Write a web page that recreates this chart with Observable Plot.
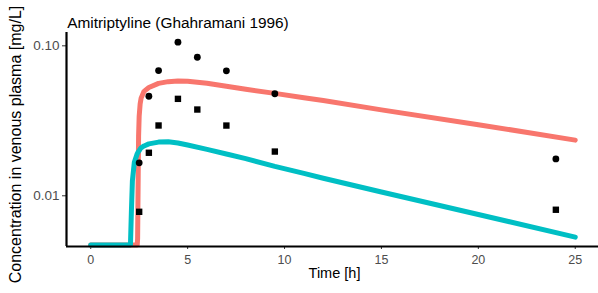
<!DOCTYPE html>
<html>
<head>
<meta charset="utf-8">
<script src="https://cdn.jsdelivr.net/npm/d3@7"></script>
<script src="https://cdn.jsdelivr.net/npm/@observablehq/plot@0.6"></script>
<style>
  html, body { margin: 0; padding: 0; background: #fff; }
  #chart svg { display: block; }
</style>
</head>
<body>
<div id="chart"></div>
<script>
// ---- data ----
const chartTitle = "Amitriptyline (Ghahramani 1996)";
const xTitle = "Time [h]";
const yTitle = "Concentration in venous plasma [mg/L]";

const xTicks = [0, 5, 10, 15, 20, 25];
const yTicks = [0.01, 0.1];
const xDomain = [-1.25, 26.2];
const yDomain = [0.00459, 0.1227];

// simulated curves
const simTime = [0, 1, 2, 2.05, 2.1, 2.15, 2.25, 2.4, 2.42, 2.45, 2.47, 2.5, 2.55, 2.6, 2.75, 3, 3.5, 4, 4.5, 5, 6, 7, 8, 9.5, 11, 12, 15, 20, 25];
const simRed = [0.0047, 0.0047, 0.0047, 0.0047, 0.0047, 0.0047, 0.0047, 0.0047, 0.0052, 0.0140, 0.0250, 0.0340, 0.0410, 0.0448, 0.0497, 0.0527, 0.0562, 0.0577, 0.0582, 0.0580, 0.0563, 0.0538, 0.0513, 0.0482, 0.0451, 0.0432, 0.0374, 0.0298, 0.0235];
const simTeal = [0.0047, 0.0047, 0.0047, 0.0047, 0.0080, 0.0126, 0.0167, 0.0191, 0.0193, 0.0196, 0.0198, 0.0200, 0.0205, 0.0209, 0.0215, 0.0222, 0.0228, 0.0229, 0.0225, 0.0218, 0.0204, 0.0190, 0.0177, 0.0157, 0.0141, 0.0131, 0.0106, 0.0075, 0.0053];

// observed data
const obsTime = [2.5, 3, 3.5, 4.5, 5.5, 7, 9.5, 24];
const obsCircle = [0.0166, 0.0461, 0.0684, 0.1057, 0.0839, 0.0681, 0.0479, 0.0176];
const obsSquare = [0.00782, 0.01936, 0.02943, 0.0443, 0.0376, 0.0294, 0.01972, 0.00807];

const colors = ["#F8766D", "#00BFC4"];

// ---- build tables ----
const redLine = simTime.map((t, i) => ({t, v: simRed[i]}));
const tealLine = simTime.map((t, i) => ({t, v: simTeal[i]}));
const circles = obsTime.map((t, i) => ({t, v: obsCircle[i]}));
const squares = obsTime.map((t, i) => ({t, v: obsSquare[i]}));

const font = "'Liberation Sans', Arial, Helvetica, sans-serif";
const hasAxisMarks = typeof Plot.axisY === "function";

const axisMarks = hasAxisMarks ? [
  Plot.axisX(xTicks, {tickSize: 3, tickPadding: 5.5, tickFormat: d3.format("d"), fontSize: 12.5, fill: "#4D4D4D", stroke: "#333333", label: null}),
  Plot.axisY(yTicks, {tickSize: 4, tickPadding: 3, tickFormat: d3.format(".2f"), fontSize: 13.5, fill: "#4D4D4D", stroke: "#333333", label: null})
] : [];

const chart = Plot.plot({
  width: 598,
  height: 293,
  marginLeft: 66,
  marginRight: 0,
  marginTop: 32,
  marginBottom: 47,
  style: {fontFamily: font, fontSize: "12.5px", color: "#4D4D4D", background: "#fff", overflow: "visible"},
  x: {domain: xDomain, ticks: xTicks, tickSize: 3, tickPadding: 5.5, tickFormat: d3.format("d"), label: null},
  y: {type: "log", domain: yDomain, ticks: yTicks, tickSize: 4, tickPadding: 3, tickFormat: d3.format(".2f"), label: null},
  marks: [
    ...axisMarks,
    Plot.line(redLine, {x: "t", y: "v", stroke: colors[0], strokeWidth: 5, curve: "linear"}),
    Plot.line(tealLine, {x: "t", y: "v", stroke: colors[1], strokeWidth: 5, curve: "linear"}),
    Plot.dot(circles, {x: "t", y: "v", symbol: "circle", r: 3.4, fill: "black", stroke: "none"}),
    Plot.dot(squares, {x: "t", y: "v", symbol: "square", r: 3.6, fill: "black", stroke: "none"}),
    Plot.ruleX([xDomain[0]], {stroke: "black", strokeWidth: 2.2}),
    Plot.ruleY([yDomain[0]], {stroke: "black", strokeWidth: 2.2}),
    Plot.text([chartTitle], {frameAnchor: "top-left", textAnchor: "start", dx: 0.7, dy: -15.5, fill: "black", fontSize: 15.4}),
    Plot.text([xTitle], {frameAnchor: "bottom", textAnchor: "middle", dx: 2, dy: 31.5, fill: "black", fontSize: 14.5}),
    Plot.text([yTitle], {frameAnchor: "left", textAnchor: "middle", rotate: -90, dx: -51, dy: 5, fill: "black", fontSize: 16})
  ]
});

document.getElementById("chart").appendChild(chart);
</script>
</body>
</html>
